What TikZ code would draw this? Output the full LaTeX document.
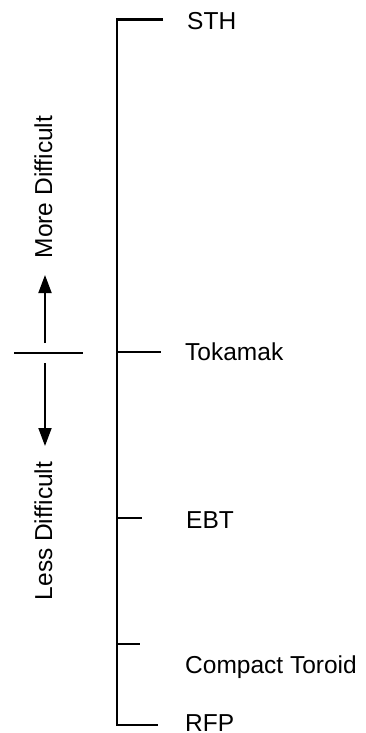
\documentclass[tikz,border=0pt]{standalone}
\usepackage{fontspec}
\setmainfont{Liberation Sans}
\usetikzlibrary{arrows.meta}
\begin{document}
\begin{tikzpicture}[x=1pt,y=-1pt,
  lbl/.style={anchor=base west,inner sep=0pt,font=\fontsize{24.5}{28}\selectfont},
  side/.style={rotate=90,anchor=base,inner sep=0pt,font=\fontsize{24.5}{28}\selectfont},
  axis/.style={line width=2.8pt,line join=miter},
  tick/.style={line width=1.8pt},
  arr/.style={line width=1.8pt,-{Triangle[length=18pt,width=13pt]}}]
\useasboundingbox (0,0) rectangle (365,733);
% axis
\coordinate (top) at (117,19.5);
\coordinate (bot) at (117,725);
\coordinate (sthE) at (163,19.5);
\coordinate (tokS) at (117,352);
\coordinate (tokE) at (161,352);
\coordinate (ebtS) at (117,518);
\coordinate (ebtE) at (142,518);
\coordinate (ctS) at (117,644);
\coordinate (ctE) at (140,644);
\coordinate (rfpE) at (158,725);
\draw[axis] (sthE) -- (top) -- (bot) -- (rfpE);
\draw[tick] (tokS) -- (tokE);
\draw[tick] (ebtS) -- (ebtE);
\draw[tick] (ctS) -- (ctE);
% labels
\node[lbl] (sth) at (187,29.5) {STH};
\node[lbl] (tok) at (185,360) {Tokamak};
\node[lbl] (ebt) at (186,528) {EBT};
\node[lbl] (ct) at (185,673) {Compact Toroid};
\node[lbl] (rfp) at (185,731) {RFP};
% left indicator
\coordinate (hL) at (14,353);
\coordinate (hR) at (83,353);
\draw[tick] (hL) -- (hR);
\coordinate (upS) at (45,343);
\coordinate (upE) at (45,275);
\coordinate (dnS) at (45,363);
\coordinate (dnE) at (45,446);
\draw[arr] (upS) -- (upE);
\draw[arr] (dnS) -- (dnE);
\node[side] (more) at (52,187) {More Difficult};
\node[side] (less) at (52,531) {Less Difficult};
\end{tikzpicture}
\end{document}
